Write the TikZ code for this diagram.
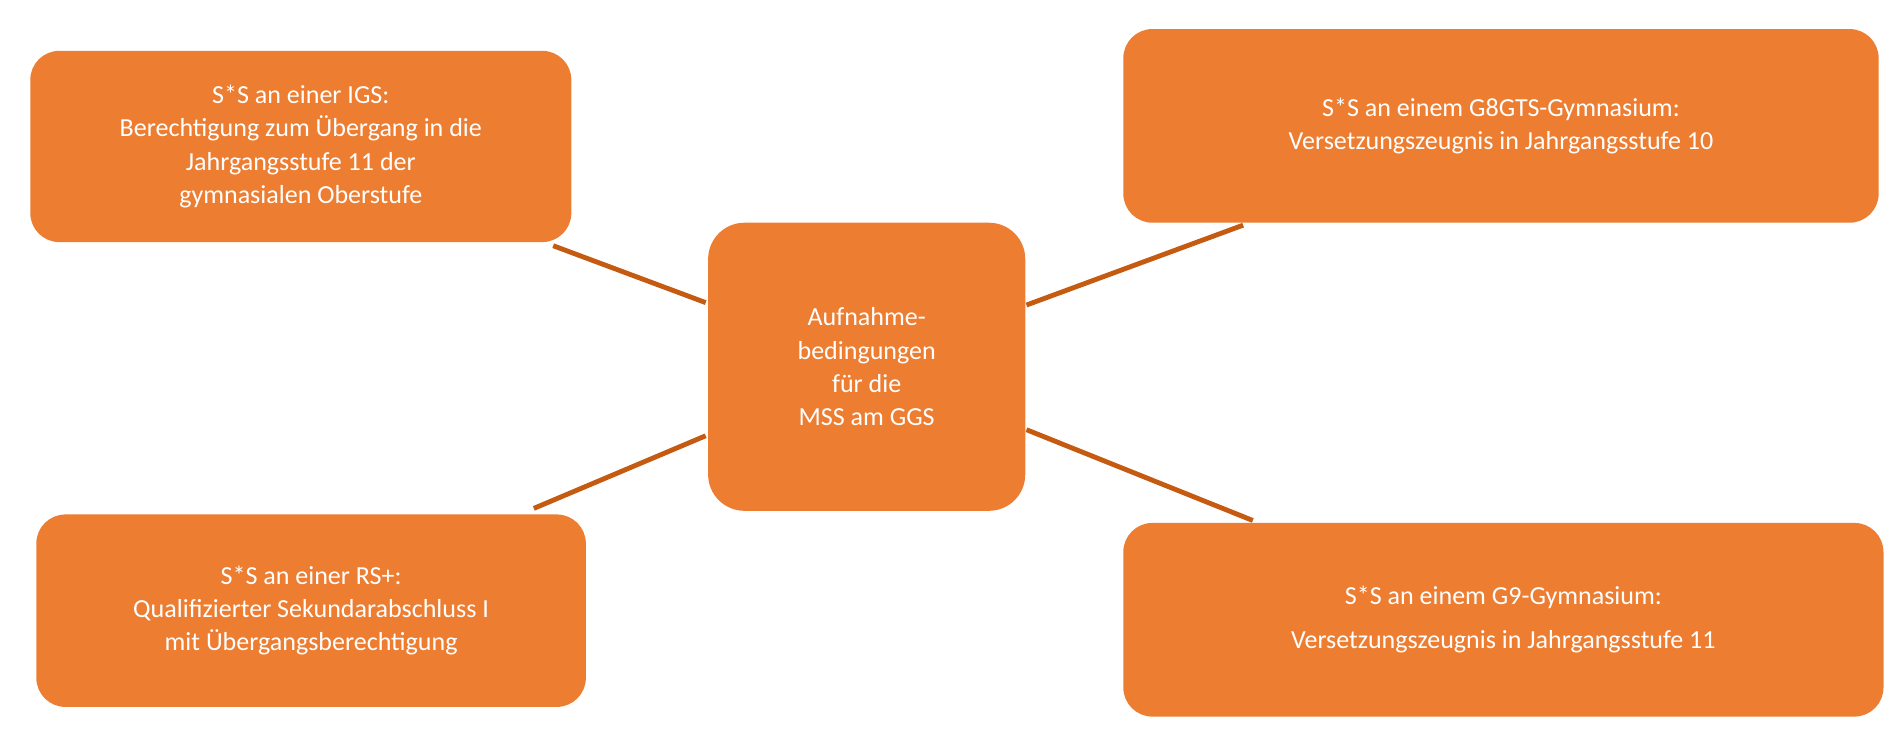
\documentclass[tikz,border=0pt]{standalone}
\usepackage{fontspec}
\setmainfont{Carlito}
\begin{document}
\begin{tikzpicture}[x=1pt,y=-1pt,
  box/.style={draw=none,fill=boxor,rounded corners=24pt,text=white,align=center,
    font=\fontsize{21.5}{27.5}\selectfont,inner sep=0pt},
  link/.style={draw=linkor,line width=4pt}]
\definecolor{boxor}{HTML}{ED7D31}
\definecolor{linkor}{HTML}{C55A11}
\useasboundingbox (0,0) rectangle (1568,607);
\node[box,minimum width=447pt,minimum height=158pt] (tl) at (248.5,121) {S*S an einer IGS:\\Berechtigung zum Übergang in die\\Jahrgangsstufe 11 der\\gymnasialen Oberstufe};
\node[box,minimum width=624pt,minimum height=160pt] (tr) at (1240,104) {S*S an einem G8GTS-Gymnasium:\\Versetzungszeugnis in Jahrgangsstufe 10};
\node[box,minimum width=262pt,minimum height=238pt,rounded corners=30pt] (c) at (716,303) {Aufnahme-\\bedingungen\\für die\\MSS am GGS};
\node[box,minimum width=454pt,minimum height=159pt] (bl) at (257,504.5) {S*S an einer RS+:\\Qualifizierter Sekundarabschluss I\\mit Übergangsberechtigung};
\node[box,minimum width=628pt,minimum height=160pt,font=\fontsize{21.5}{36}\selectfont] (br) at (1242,512) {S*S an einem G9-Gymnasium:\\Versetzungszeugnis in Jahrgangsstufe 11};
\coordinate (a1) at (457,203); \coordinate (a2) at (583,250);
\coordinate (b1) at (848,252); \coordinate (b2) at (1027,186);
\coordinate (c1) at (441,420); \coordinate (c2) at (583,360);
\coordinate (d1) at (848,355); \coordinate (d2) at (1035,430);
\draw[link] (a1) -- (a2);
\draw[link] (b1) -- (b2);
\draw[link] (c1) -- (c2);
\draw[link] (d1) -- (d2);
\end{tikzpicture}
\end{document}
